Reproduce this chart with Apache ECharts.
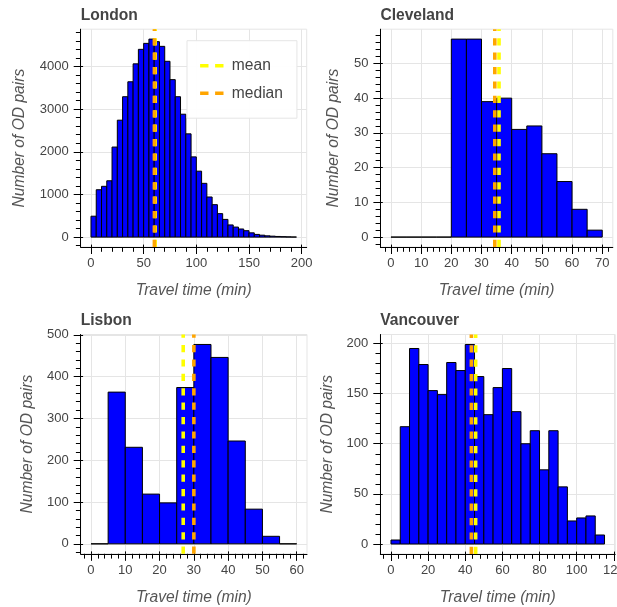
<!DOCTYPE html>
<html>
<head>
<meta charset="utf-8">
<script src="https://cdn.jsdelivr.net/npm/echarts@6/dist/echarts.min.js"></script>
<style>
  html, body { margin: 0; padding: 0; background: #ffffff; }
  #chart { width: 617px; height: 607px; }
</style>
</head>
<body>
<div id="chart"></div>
<script>
// Histograms of travel time between origin/destination pairs, 5-minute bins from 0.
const binWidth = 5;
const londonCounts = [490, 1110, 1190, 1320, 2110, 2740, 3290, 3640, 4060, 4400, 4540, 4640, 4580,
  4470, 4120, 3690, 3290, 2880, 2420, 1880, 1545, 1260, 940, 760, 550, 415, 285, 235, 190, 150,
  100, 63, 45, 30, 22, 15, 10, 6, 3];
const clevelandCounts = [0, 0, 0, 0, 57, 57, 39, 40, 31, 32, 24, 16, 8, 2];
const lisbonCounts = [0, 363, 231, 119, 98, 374, 477, 446, 246, 83, 18, 0];
const vancouverCounts = [4, 117, 195, 179, 153, 149, 181, 173, 199, 167, 129, 156, 175, 132, 100,
  113, 74, 113, 57, 23, 26, 28, 9];

const cityNames = ['London', 'Cleveland', 'Lisbon', 'Vancouver'];
const meanTimes = [60.9, 35.8, 26.9, 45.6];
const medianTimes = [60.2, 34.4, 30.0, 43.3];

// Tick labels per panel
const londonXTicks = [0, 50, 100, 150, 200];
const londonYTicks = [0, 1000, 2000, 3000, 4000];
const clevelandXTicks = [0, 10, 20, 30, 40, 50, 60, 70];
const clevelandYTicks = [0, 10, 20, 30, 40, 50];
const lisbonXTicks = [0, 10, 20, 30, 40, 50, 60];
const lisbonYTicks = [0, 100, 200, 300, 400, 500];
const vancouverXTicks = [0, 20, 40, 60, 80, 100, 120];
const vancouverYTicks = [0, 50, 100, 150, 200];

const FONT = '"Liberation Sans", Arial, Helvetica, sans-serif';
const TEXT_COLOR = '#444';
const GRID_COLOR = '#e5e5e5';
const MEAN_COLOR = '#ffff00';
const MEDIAN_COLOR = '#ffa500';
const SPAN_WIDTH = 3.6;
const SPAN_DASH = [7.2, 7.2];
const TICK_FONT_SIZE = 13;

const panels = [
  { counts: londonCounts, xTicks: londonXTicks, yTicks: londonYTicks, xMinorStep: 10, yMinorStep: 200,
    box: { left: 80.7, top: 29.2, width: 226, height: 217.8 }, yNameGap: 52.7 },
  { counts: clevelandCounts, xTicks: clevelandXTicks, yTicks: clevelandYTicks, xMinorStep: 2, yMinorStep: 2,
    box: { left: 380.4, top: 29.2, width: 232.4, height: 217.8 }, yNameGap: 38.4 },
  { counts: lisbonCounts, xTicks: lisbonXTicks, yTicks: lisbonYTicks, xMinorStep: 2, yMinorStep: 20,
    box: { left: 80.7, top: 334.5, width: 226.3, height: 219.3 }, yNameGap: 45.2 },
  { counts: vancouverCounts, xTicks: vancouverXTicks, yTicks: vancouverYTicks, xMinorStep: 4, yMinorStep: 10,
    box: { left: 380.3, top: 334.5, width: 234.9, height: 219.5 }, yNameGap: 44.8 }
];

// Data range with 5% padding on each side
function paddedExtent(lo, hi) {
  const pad = (hi - lo) * 0.05;
  return [lo - pad, hi + pad];
}

function stepTicks(extent, step) {
  const out = [];
  const first = Math.ceil(extent[0] / step - 1e-9);
  for (let k = first; k * step <= extent[1] + 1e-9; k++) out.push(+(k * step).toFixed(6));
  return out;
}

const grids = [];
const xAxes = [];
const yAxes = [];
const series = [];
const titles = [];

panels.forEach((p, g) => {
  const xExt = paddedExtent(0, p.counts.length * binWidth);
  const yExt = paddedExtent(0, Math.max.apply(null, p.counts));

  grids.push({
    left: p.box.left, top: p.box.top, width: p.box.width, height: p.box.height,
    show: true, borderColor: GRID_COLOR, borderWidth: 1, backgroundColor: 'transparent',
    containLabel: false, outerBoundsMode: 'none'
  });

  titles.push({
    text: cityNames[g], left: p.box.left, top: p.box.top - 22, padding: 0,
    textStyle: { fontFamily: FONT, fontSize: 15.6, fontWeight: 'bold', color: TEXT_COLOR }
  });

  const base = (dim) => ({
    type: 'value', gridIndex: g,
    min: dim === 'x' ? xExt[0] : yExt[0],
    max: dim === 'x' ? xExt[1] : yExt[1],
    position: dim === 'x' ? 'bottom' : 'left',
    silent: true
  });

  // major ticks, labels, grid lines
  xAxes.push(Object.assign(base('x'), {
    axisLine: { show: true, onZero: false, lineStyle: { color: '#000', width: 1 } },
    axisTick: { show: true, length: 7, customValues: p.xTicks, lineStyle: { color: '#000', width: 1 } },
    axisLabel: { show: true, customValues: p.xTicks, margin: 10, fontSize: TICK_FONT_SIZE, color: TEXT_COLOR,
      fontFamily: FONT, formatter: (v) => String(v), hideOverlap: false },
    splitLine: { show: true, lineStyle: { color: GRID_COLOR, width: 1 } },
    name: 'Travel time (min)', nameLocation: 'middle', nameGap: 36,
    nameTextStyle: { fontFamily: FONT, fontSize: 15.6, fontStyle: 'italic', color: '#555' }
  }));
  // minor ticks
  xAxes.push(Object.assign(base('x'), {
    axisLine: { show: false, onZero: false },
    axisTick: { show: true, length: 4.8, customValues: stepTicks(xExt, p.xMinorStep), lineStyle: { color: '#000', width: 1 } },
    axisLabel: { show: false }, splitLine: { show: false }
  }));
  // inward part of the major ticks
  xAxes.push(Object.assign(base('x'), {
    axisLine: { show: false, onZero: false },
    axisTick: { show: true, inside: true, length: 2.4, customValues: p.xTicks, lineStyle: { color: '#000', width: 1 } },
    axisLabel: { show: false }, splitLine: { show: false }
  }));

  yAxes.push(Object.assign(base('y'), {
    axisLine: { show: true, onZero: false, lineStyle: { color: '#000', width: 1 } },
    axisTick: { show: true, length: 7, customValues: p.yTicks, lineStyle: { color: '#000', width: 1 } },
    axisLabel: { show: true, customValues: p.yTicks, margin: 12, fontSize: TICK_FONT_SIZE, color: TEXT_COLOR,
      fontFamily: FONT, formatter: (v) => String(v), hideOverlap: false },
    splitLine: { show: true, lineStyle: { color: GRID_COLOR, width: 1 } },
    name: 'Number of OD pairs', nameLocation: 'middle', nameGap: p.yNameGap,
    nameTextStyle: { fontFamily: FONT, fontSize: 15.6, fontStyle: 'italic', color: '#555' }
  }));
  yAxes.push(Object.assign(base('y'), {
    axisLine: { show: false, onZero: false },
    axisTick: { show: true, length: 4.8, customValues: stepTicks(yExt, p.yMinorStep), lineStyle: { color: '#000', width: 1 } },
    axisLabel: { show: false }, splitLine: { show: false }
  }));
  yAxes.push(Object.assign(base('y'), {
    axisLine: { show: false, onZero: false },
    axisTick: { show: true, inside: true, length: 2.4, customValues: p.yTicks, lineStyle: { color: '#000', width: 1 } },
    axisLabel: { show: false }, splitLine: { show: false }
  }));

  const axisIdx = 3 * g;

  // histogram bars as [binStart, binEnd, count]
  series.push({
    type: 'custom', xAxisIndex: axisIdx, yAxisIndex: axisIdx, silent: true,
    encode: { x: [0, 1], y: 2 },
    data: p.counts.map((c, i) => [i * binWidth, (i + 1) * binWidth, c]),
    renderItem: (params, api) => {
      const tl = api.coord([api.value(0), api.value(2)]);
      const br = api.coord([api.value(1), 0]);
      return {
        type: 'rect',
        shape: { x: tl[0], y: tl[1], width: br[0] - tl[0], height: br[1] - tl[1] },
        style: { fill: '#0000ff', stroke: '#000000', lineWidth: 1 }
      };
    }
  });

  // full-height dashed spans for mean and median
  const span = (name, value, color) => ({
    type: 'line', name: name, xAxisIndex: axisIdx, yAxisIndex: axisIdx, silent: true,
    symbol: 'none', clip: false,
    data: [[value, yExt[0]], [value, yExt[1]]],
    itemStyle: { color: color },
    lineStyle: { color: color, width: SPAN_WIDTH, type: SPAN_DASH, cap: 'butt' },
    z: 3
  });
  series.push(span('mean', meanTimes[g], MEAN_COLOR));
  series.push(span('median', medianTimes[g], MEDIAN_COLOR));
});

const option = {
  animation: false,
  backgroundColor: '#ffffff',
  title: titles,
  grid: grids,
  xAxis: xAxes,
  yAxis: yAxes,
  legend: {
    data: ['mean', 'median'],
    orient: 'vertical',
    left: 187, top: 40.7,
    padding: [17, 14, 17, 11.3],
    itemWidth: 26.7, itemHeight: 18, itemGap: 11.5,
    backgroundColor: 'rgba(255,255,255,0.95)',
    borderColor: GRID_COLOR, borderWidth: 1, borderRadius: 0,
    selectedMode: false,
    itemStyle: { opacity: 0 },
    lineStyle: { width: SPAN_WIDTH, type: [8.4, 6.6], cap: 'butt' },
    textStyle: { fontFamily: FONT, fontSize: 15.6, color: TEXT_COLOR },
    z: 10
  },
  series: series
};

const chart = echarts.init(document.getElementById('chart'), null, { renderer: 'canvas' });
chart.setOption(option);
</script>
</body>
</html>
